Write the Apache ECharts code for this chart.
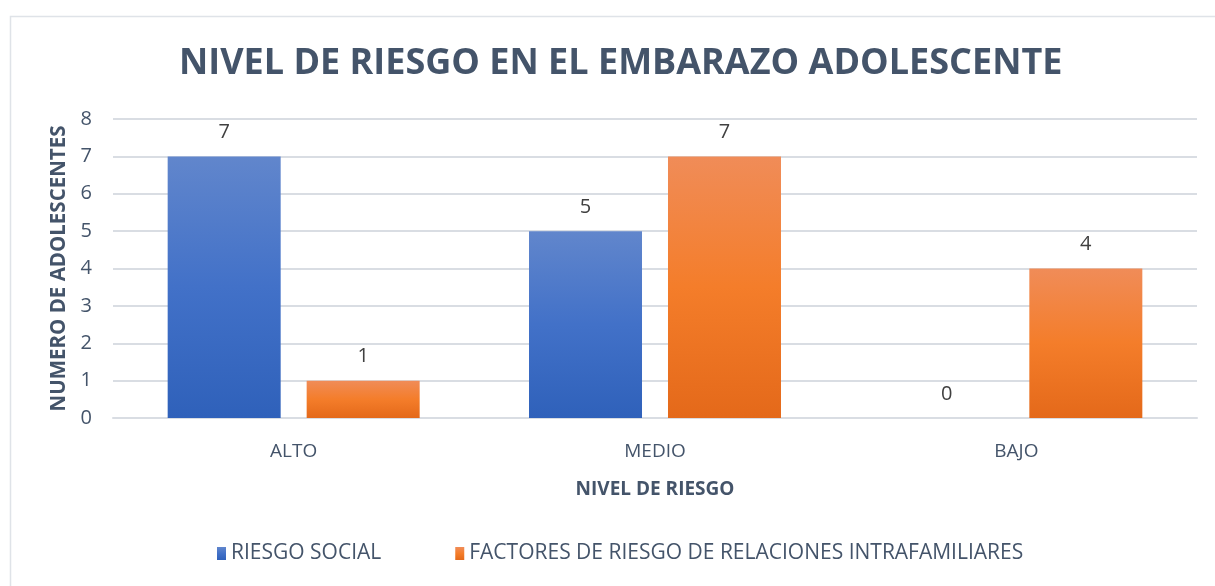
<!DOCTYPE html>
<html>
<head>
<meta charset="utf-8">
<script src="https://cdn.jsdelivr.net/npm/echarts@6/dist/echarts.min.js"></script>
<style>
  html, body { margin: 0; padding: 0; background: #fff; }
  #chart { width: 1215px; height: 586px; }
</style>
</head>
<body>
<div id="chart"></div>
<script>
// datos
const categorias = ['ALTO', 'MEDIO', 'BAJO']
const riesgoSocial = [7, 5, 0]
const factoresIntrafamiliares = [1, 7, 4]
const nombresSeries = ['RIESGO SOCIAL', 'FACTORES DE RIESGO DE RELACIONES INTRAFAMILIARES']

const textColor = '#44546a'
const fontFam = 'Open Sans, Liberation Sans, sans-serif'

const blueGrad = new echarts.graphic.LinearGradient(0, 0, 0, 1, [
  { offset: 0, color: '#6186cc' },
  { offset: 0.5, color: '#4271c8' },
  { offset: 1, color: '#2f61ba' }
])
const orangeGrad = new echarts.graphic.LinearGradient(0, 0, 0, 1, [
  { offset: 0, color: '#f08c58' },
  { offset: 0.5, color: '#f47d2a' },
  { offset: 1, color: '#e4691a' }
])

const chart = echarts.init(document.getElementById('chart'))

chart.setOption({
  backgroundColor: '#fff',
  animation: false,
  textStyle: { fontFamily: fontFam },
  graphic: [
    {
      type: 'rect',
      left: 8, top: 14,
      shape: { width: 1230, height: 600 },
      style: { fill: 'none', stroke: '#dfe3e8', lineWidth: 1.5 },
      z: -1
    }
  ],
  title: {
    text: 'NIVEL DE RIESGO EN EL EMBARAZO ADOLESCENTE',
    left: 174,
    top: 41,
    textStyle: { color: textColor, fontSize: 36, fontWeight: 'bold', fontFamily: fontFam }
  },
  legend: {
    bottom: 17,
    left: 212,
    itemWidth: 9,
    itemHeight: 13,
    itemGap: 74,
    icon: 'rect',
    textStyle: { color: textColor, fontSize: 21, fontFamily: fontFam },
    data: nombresSeries
  },
  grid: { left: 113, right: 18, top: 119, bottom: 168 },
  xAxis: {
    type: 'category',
    data: categorias,
    name: 'NIVEL DE RIESGO',
    nameLocation: 'middle',
    nameGap: 62,
    nameTextStyle: { color: textColor, fontSize: 19, fontWeight: 'bold' },
    axisLine: { lineStyle: { color: '#d9dde3', width: 2 } },
    axisTick: { show: false },
    axisLabel: { color: textColor, fontSize: 19, margin: 24 }
  },
  yAxis: {
    type: 'value',
    min: 0,
    max: 8,
    interval: 1,
    name: 'NUMERO DE ADOLESCENTES',
    nameLocation: 'middle',
    nameGap: 43,
    nameTextStyle: { color: textColor, fontSize: 20.5, fontWeight: 'bold' },
    axisLine: { show: false },
    axisTick: { show: false },
    axisLabel: { color: textColor, fontSize: 20, margin: 21 },
    splitLine: { lineStyle: { color: '#d9dde3', width: 2 } }
  },
  series: [
    {
      name: nombresSeries[0],
      type: 'bar',
      data: riesgoSocial,
      barWidth: 113,
      barGap: '23%',
      itemStyle: { color: blueGrad },
      label: { show: true, position: 'top', distance: 14, color: '#404040', fontSize: 20 }
    },
    {
      name: nombresSeries[1],
      type: 'bar',
      data: factoresIntrafamiliares,
      barWidth: 113,
      itemStyle: { color: orangeGrad },
      label: { show: true, position: 'top', distance: 14, color: '#404040', fontSize: 20 }
    }
  ]
})
</script>
</body>
</html>
